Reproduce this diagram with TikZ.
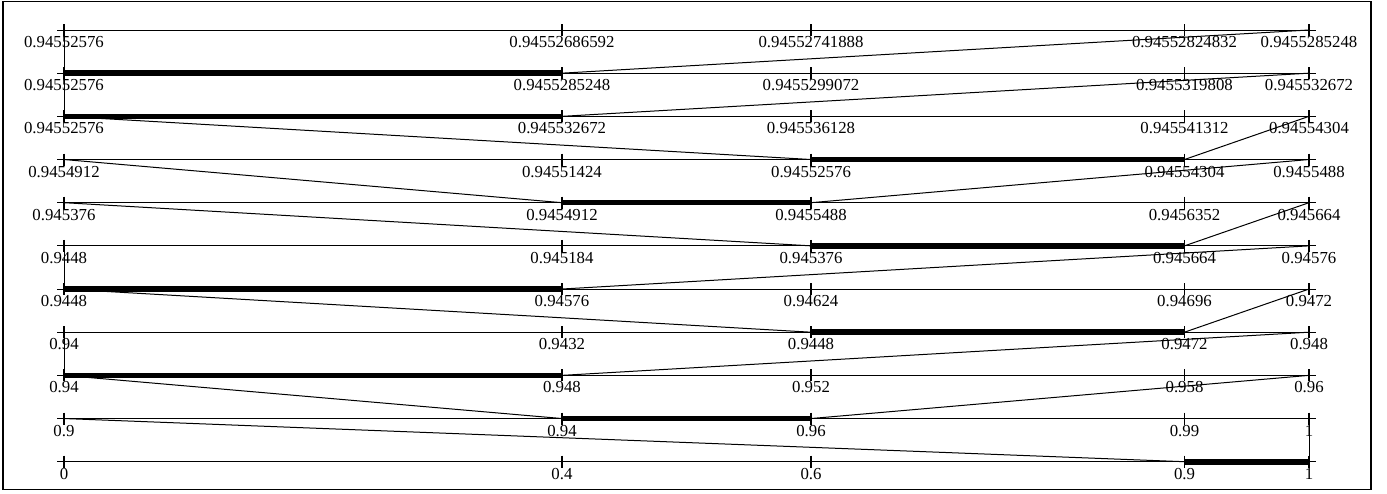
\documentclass[tikz,border=0pt]{standalone}
\usepackage{fontspec}
\setmainfont{Liberation Serif}
\begin{document}
\begin{tikzpicture}[
    x=0.5pt, y=-0.5pt,
    axis/.style={line width=0.5pt},
    tickmark/.style={line width=0.6pt},
    chosen/.style={line width=2.8pt},
    link/.style={line width=0.5pt},
    val/.style={font=\fontsize{8.4}{10}\selectfont, inner sep=0pt, below=3pt}
]
\useasboundingbox (0,0) rectangle (1387,493);
\draw[line width=0.8pt] (3,1.5) rectangle (1371,489.5);

% tick positions of every row
\foreach \r in {0,...,10}
  \foreach \f [count=\i from 0] in {0,0.4,0.6,0.9,1}
    \coordinate (r\r-\i) at ({64+1245*\f}, {461.7-43.17*\r});

% axes and ticks
\foreach \r in {0,...,10} {
  \draw[axis] ([xshift=-3.5pt]r\r-0) -- ([xshift=3.5pt]r\r-4);
  \foreach \i in {0,...,4}
    \draw[tickmark] ([yshift=3pt]r\r-\i) -- ([yshift=-3pt]r\r-\i);
}

% values
\foreach \labs [count=\r from 0] in {
    {0,0.4,0.6,0.9,1},
    {0.9,0.94,0.96,0.99,1},
    {0.94,0.948,0.952,0.958,0.96},
    {0.94,0.9432,0.9448,0.9472,0.948},
    {0.9448,0.94576,0.94624,0.94696,0.9472},
    {0.9448,0.945184,0.945376,0.945664,0.94576},
    {0.945376,0.9454912,0.9455488,0.9456352,0.945664},
    {0.9454912,0.94551424,0.94552576,0.94554304,0.9455488},
    {0.94552576,0.945532672,0.945536128,0.945541312,0.94554304},
    {0.94552576,0.9455285248,0.9455299072,0.9455319808,0.945532672},
    {0.94552576,0.94552686592,0.94552741888,0.94552824832,0.9455285248}}
  \foreach \lab [count=\i from 0] in \labs
    \node[val] (l\r-\i) at (r\r-\i) {\lab};

% chosen intervals and zoom lines
\foreach \r/\b [evaluate=\r as \n using int(\r+1), evaluate=\b as \e using int(\b+1)] in
    {0/3,1/1,2/0,3/2,4/0,5/2,6/1,7/2,8/0,9/0} {
  \draw[link] (r\r-\b) -- (r\n-0);
  \draw[link] (r\r-\e) -- (r\n-4);
  \draw[chosen] (r\r-\b) -- (r\r-\e);
}
\end{tikzpicture}
\end{document}
